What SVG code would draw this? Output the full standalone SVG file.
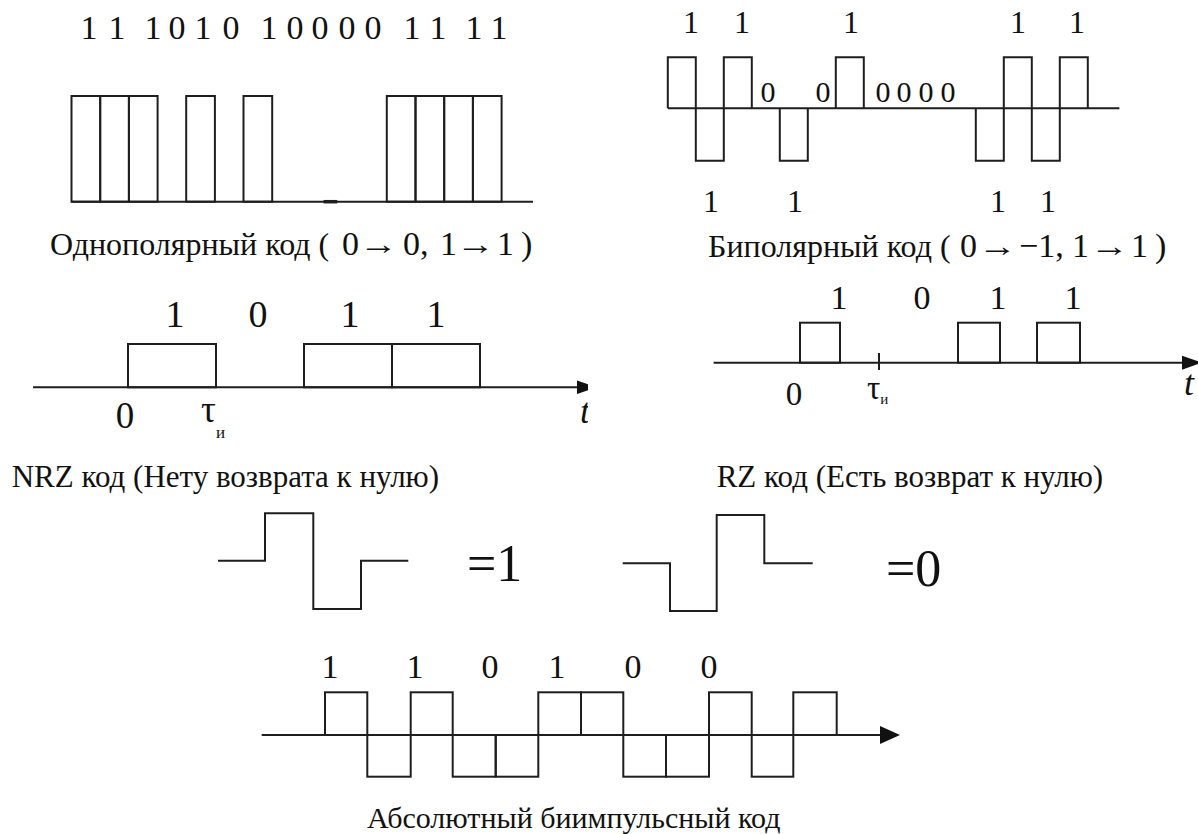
<svg xmlns="http://www.w3.org/2000/svg" width="1198" height="834" viewBox="0 0 1198 834" font-family="Liberation Serif, Times New Roman, serif">
<style>
.w{fill:none;stroke:#1e1e1e;stroke-width:2}
.ax{fill:none;stroke:#1e1e1e;stroke-width:2}
text{fill:#111}
.it{font-style:italic;font-size:36px}
.mid{text-anchor:middle}
</style>
<defs>
<clipPath id="clipL"><rect x="0" y="0" width="588" height="834"/></clipPath>
</defs>
<rect width="1198" height="834" fill="#fff"/>

<g id="unipolar">
<text font-size="34" text-anchor="middle" y="39"><tspan x="89">1</tspan><tspan x="117">1</tspan><tspan x="153">1</tspan><tspan x="177">0</tspan><tspan x="203">1</tspan><tspan x="231">0</tspan><tspan x="269">1</tspan><tspan x="295">0</tspan><tspan x="320">0</tspan><tspan x="347">0</tspan><tspan x="373">0</tspan><tspan x="412">1</tspan><tspan x="438">1</tspan><tspan x="474">1</tspan><tspan x="499">1</tspan></text>
<rect class="w" x="71.5" y="96" width="28.7" height="105.7"/>
<rect class="w" x="100.2" y="96" width="28.7" height="105.7"/>
<rect class="w" x="128.9" y="96" width="28.7" height="105.7"/>
<rect class="w" x="186.2" y="96" width="28.7" height="105.7"/>
<rect class="w" x="243.5" y="96" width="28.7" height="105.7"/>
<rect class="w" x="386.8" y="96" width="28.7" height="105.7"/>
<rect class="w" x="415.5" y="96" width="28.7" height="105.7"/>
<rect class="w" x="444.2" y="96" width="28.7" height="105.7"/>
<rect class="w" x="472.9" y="96" width="28.7" height="105.7"/>
<line class="ax" x1="71.5" y1="201.7" x2="533" y2="201.7"/>
<line x1="323.6" y1="201.7" x2="337.2" y2="201.7" stroke="#1e1e1e" stroke-width="3.5"/>
<text y="255" font-size="32"><tspan x="50">Однополярный код (</tspan><tspan x="342" font-size="34">0</tspan><tspan x="403" font-size="34">0,</tspan><tspan x="440" font-size="34">1</tspan><tspan x="497" font-size="34">1</tspan><tspan x="521" font-size="34">)</tspan></text>
<text font-size="30" transform="translate(359,254) scale(1.3,1)">→</text>
<text font-size="30" transform="translate(456,254) scale(1.3,1)">→</text>
</g>

<g id="bipolar">
<text class="mid" font-size="32" y="33"><tspan x="691">1</tspan><tspan x="742">1</tspan><tspan x="851">1</tspan><tspan x="1018">1</tspan><tspan x="1077">1</tspan></text>
<text class="mid" font-size="30" y="101.7"><tspan x="768">0</tspan><tspan x="823">0</tspan><tspan x="883">0</tspan><tspan x="904">0</tspan><tspan x="926">0</tspan><tspan x="948">0</tspan></text>
<text class="mid" font-size="32" y="211.7"><tspan x="711">1</tspan><tspan x="795">1</tspan><tspan x="998">1</tspan><tspan x="1048">1</tspan></text>
<line class="ax" x1="667.8" y1="108.3" x2="1119.4" y2="108.3"/>
<path class="w" d="M667.8,108.3 V57.3 H695.8 V160.7 H723.8 V57.3 H751.8 V108.3 M779.8,108.3 V160.7 H807.8 V108.3 M835.8,108.3 V57.3 H863.8 V108.3 M975.8,108.3 V160.7 H1003.8 V57.3 H1031.8 V160.7 H1059.8 V57.3 H1087.8 V108.3"/>
<text y="256.7" font-size="32"><tspan x="708">Биполярный код (</tspan><tspan x="960" font-size="34">0</tspan><tspan x="1019" font-size="34">−1,</tspan><tspan x="1072" font-size="34">1</tspan><tspan x="1131" font-size="34">1</tspan><tspan x="1155" font-size="34">)</tspan></text>
<text font-size="30" transform="translate(978,255.7) scale(1.3,1)">→</text>
<text font-size="30" transform="translate(1090,255.7) scale(1.3,1)">→</text>
</g>

<g id="nrz">
<text class="mid" font-size="38" y="327.3"><tspan x="175">1</tspan><tspan x="258">0</tspan><tspan x="350">1</tspan><tspan x="436">1</tspan></text>
<line class="ax" x1="33" y1="387.3" x2="580" y2="387.3"/>
<polygon points="577,380.5 597,387.3 577,394" fill="#111" clip-path="url(#clipL)"/>
<rect class="w" x="128" y="344" width="88" height="43.3"/>
<rect class="w" x="304" y="344" width="88" height="43.3"/>
<rect class="w" x="392" y="344" width="88" height="43.3"/>
<text class="mid" font-size="37" x="125" y="428">0</text>
<text font-size="37" x="201" y="421.7">τ<tspan font-size="17" dy="16">и</tspan></text>
<text class="it" x="580" y="423" clip-path="url(#clipL)">t</text>
<text x="11.7" y="486.7" font-size="31">NRZ код (Нету возврата к нулю)</text>
</g>

<g id="rz">
<text class="mid" font-size="34" y="309"><tspan x="839">1</tspan><tspan x="922">0</tspan><tspan x="998">1</tspan><tspan x="1073">1</tspan></text>
<line class="ax" x1="713.6" y1="362.7" x2="1185" y2="362.7"/>
<polygon points="1182,355.7 1202,362.7 1182,369.7" fill="#111"/>
<line class="ax" x1="879" y1="353" x2="879" y2="370"/>
<rect class="w" x="800" y="322.7" width="40" height="40"/>
<rect class="w" x="958" y="322.7" width="42" height="40"/>
<rect class="w" x="1037" y="322.7" width="43" height="40"/>
<text class="mid" font-size="33" x="794" y="405">0</text>
<text font-size="33" x="867" y="399">τ<tspan font-size="15" dy="5">и</tspan></text>
<text class="it" x="1184" y="395">t</text>
<text x="716.7" y="486.7" font-size="31">RZ код (Есть возврат к нулю)</text>
</g>

<g id="symbol-one">
<path class="w" d="M218,560.7 H265 V513.3 H313.3 V609 H361 V560.7 H408.3"/>
<text font-size="52" x="467" y="581">=1</text>
</g>

<g id="symbol-zero">
<path class="w" d="M622.7,563.3 H670 V611 H716.7 V515 H764.3 V563.3 H812.7"/>
<text font-size="52" x="886" y="586">=0</text>
</g>

<g id="biphase">
<text class="mid" font-size="34" y="678"><tspan x="330">1</tspan><tspan x="415">1</tspan><tspan x="490">0</tspan><tspan x="557">1</tspan><tspan x="633">0</tspan><tspan x="709">0</tspan></text>
<line class="ax" x1="261.7" y1="735" x2="885" y2="735"/>
<polygon points="880,726 900,735 880,744" fill="#111"/>
<rect class="w" x="325" y="692.3" width="42.3" height="42.7"/>
<rect class="w" x="410.7" y="692.3" width="42" height="42.7"/>
<rect class="w" x="538.3" y="692.3" width="42.7" height="42.7"/>
<rect class="w" x="581" y="692.3" width="42.3" height="42.7"/>
<rect class="w" x="709" y="692.3" width="42.7" height="42.7"/>
<rect class="w" x="793.3" y="692.3" width="43.4" height="42.7"/>
<rect class="w" x="367.3" y="735" width="43.4" height="41.7"/>
<rect class="w" x="452.7" y="735" width="43" height="41.7"/>
<rect class="w" x="495.7" y="735" width="42.6" height="41.7"/>
<rect class="w" x="623.3" y="735" width="42.7" height="41.7"/>
<rect class="w" x="666" y="735" width="43" height="41.7"/>
<rect class="w" x="751.7" y="735" width="41.6" height="41.7"/>
<text x="367" y="828" font-size="30">Абсолютный биимпульсный код</text>
</g>
</svg>
